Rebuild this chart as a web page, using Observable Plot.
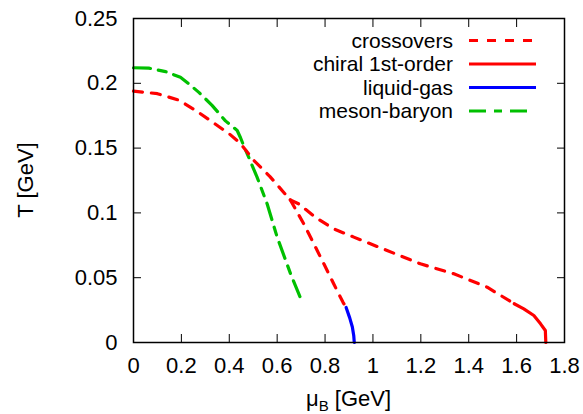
<!DOCTYPE html>
<html>
<head>
<meta charset="utf-8">
<script src="https://cdn.jsdelivr.net/npm/d3@7"></script>
<script src="https://cdn.jsdelivr.net/npm/@observablehq/plot@0.6"></script>
<style>
  html, body { margin: 0; padding: 0; background: #fff; }
</style>
</head>
<body>
<div id="chart"></div>
<script>
// ---- data: [mu_B (GeV), T (GeV)] ----
const crossoverMain = [[0,0.194],[0.1,0.192],[0.19,0.187],[0.26,0.179],[0.33,0.170],[0.40,0.161],[0.447,0.1535],[0.50,0.141],[0.57,0.128],[0.655,0.110]];
const crossoverSteep = [[0.655,0.110],[0.711,0.0916],[0.753,0.0762],[0.795,0.0607],[0.836,0.0453],[0.875,0.0310],[0.888,0.027]];
const crossoverShallow = [[0.655,0.110],[0.69,0.107],[0.76,0.0965],[0.836,0.0877],[0.92,0.0813],[1.059,0.071],[1.198,0.0607],[1.338,0.053],[1.477,0.0427],[1.59,0.0299]];
const chiralFirstOrder = [[1.59,0.0299],[1.63,0.026],[1.672,0.0208],[1.70,0.0144],[1.72,0.0093],[1.722,0]];
const liquidGas = [[0.888,0.027],[0.903,0.019],[0.914,0.012],[0.920,0.005],[0.922,0]];
const mesonBaryon = [[0,0.212],[0.064,0.2117],[0.134,0.209],[0.196,0.2047],[0.231,0.1996],[0.273,0.193],[0.328,0.183],[0.384,0.171],[0.433,0.1636],[0.447,0.158],[0.46,0.152],[0.475,0.1456],[0.516,0.1276],[0.558,0.107],[0.60,0.0813],[0.656,0.053],[0.705,0.031]];

const xTicks = [0,0.2,0.4,0.6,0.8,1,1.2,1.4,1.6,1.8];
const xTickLabels = ["0","0.2","0.4","0.6","0.8","1","1.2","1.4","1.6","1.8"];
const yTicks = [0,0.05,0.1,0.15,0.2,0.25];
const yTickLabels = ["0","0.05","0.1","0.15","0.2","0.25"];

const seriesNames = ["crossovers","chiral 1st-order","liquid-gas","meson-baryon"];
const seriesColors = ["#ff0000","#ff0000","#0000ff","#00c000"];
const seriesDash = ["9,9","none","none","17,8,8,8"];
const xLabelMain = "\u03bc", xLabelSub = "B", xLabelRest = " [GeV]";
const yLabel = "T [GeV]";

const W = 583, H = 414;
const mL = 133, mR = 19, mT = 18, mB = 72;
const font = "'Liberation Sans', Arial, Helvetica, sans-serif";
const fs = 22, legendFs = 21;

const lineOpts = (i) => ({
  x: d => d[0], y: d => d[1],
  stroke: seriesColors[i], strokeWidth: 3.2,
  strokeDasharray: seriesDash[i] === "none" ? null : seriesDash[i],
  strokeLinejoin: "round"
});

const chart = Plot.plot({
  width: W, height: H,
  marginLeft: mL, marginRight: mR, marginTop: mT, marginBottom: mB,
  style: {fontFamily: font, fontSize: fs + "px", background: "white", color: "black", overflow: "visible"},
  x: {domain: [0, 1.8], label: null},
  y: {domain: [0, 0.25], label: null},
  marks: [
    Plot.axisX({anchor: "bottom", ticks: xTicks, tickSize: 0, tickPadding: 15, tickFormat: d => xTickLabels[xTicks.indexOf(d)], label: null}),
    Plot.axisY({anchor: "left", ticks: yTicks, tickSize: 0, tickPadding: 16, tickFormat: d => yTickLabels[yTicks.indexOf(d)], label: null}),
    Plot.axisX({anchor: "bottom", ticks: xTicks, tickSize: -8, fill: "none", label: null}),
    Plot.axisX({anchor: "top", ticks: xTicks, tickSize: -8, fill: "none", label: null}),
    Plot.axisY({anchor: "left", ticks: yTicks, tickSize: -8, fill: "none", label: null}),
    Plot.axisY({anchor: "right", ticks: yTicks, tickSize: -8, fill: "none", label: null}),
    Plot.line(mesonBaryon, lineOpts(3)),
    Plot.line(crossoverMain, lineOpts(0)),
    Plot.line(crossoverSteep, lineOpts(0)),
    Plot.line(crossoverShallow, lineOpts(0)),
    Plot.line(chiralFirstOrder, lineOpts(1)),
    Plot.line(liquidGas, lineOpts(2)),
    Plot.frame({stroke: "black", strokeWidth: 1.5})
  ]
});

const svg = d3.select(chart);
const frameRight = W - mR, frameCx = (mL + W - mR) / 2, frameCy = (mT + H - mB) / 2;

// legend (top-right, inside the frame)
const lg = svg.append("g").attr("font-family", font).attr("font-size", legendFs);
const lineLen = [67, 67, 67, 58];
seriesNames.forEach((name, i) => {
  const y = mT + 22.5 + i * 23.5;
  lg.append("text").attr("x", frameRight - 111).attr("y", y).attr("dy", "0.35em")
    .attr("text-anchor", "end").attr("fill", "black").text(name);
  lg.append("line").attr("x1", frameRight - 95).attr("x2", frameRight - 95 + lineLen[i])
    .attr("y1", y).attr("y2", y)
    .attr("stroke", seriesColors[i]).attr("stroke-width", 3.2)
    .attr("stroke-dasharray", seriesDash[i] === "none" ? null : seriesDash[i]);
});

// axis titles
const xt = svg.append("text").attr("x", frameCx).attr("y", H - 8)
  .attr("text-anchor", "middle").attr("font-family", font).attr("font-size", fs).attr("fill", "black");
xt.append("tspan").text(xLabelMain);
xt.append("tspan").attr("font-size", 15).attr("dy", 5).text(xLabelSub);
xt.append("tspan").attr("dy", -5).text(xLabelRest);

svg.append("text").attr("transform", `translate(25,${frameCy}) rotate(-90)`)
  .attr("text-anchor", "middle").attr("dy", "0.35em")
  .attr("font-family", font).attr("font-size", fs).attr("fill", "black").text(yLabel);

document.getElementById("chart").appendChild(chart);
</script>
</body>
</html>
